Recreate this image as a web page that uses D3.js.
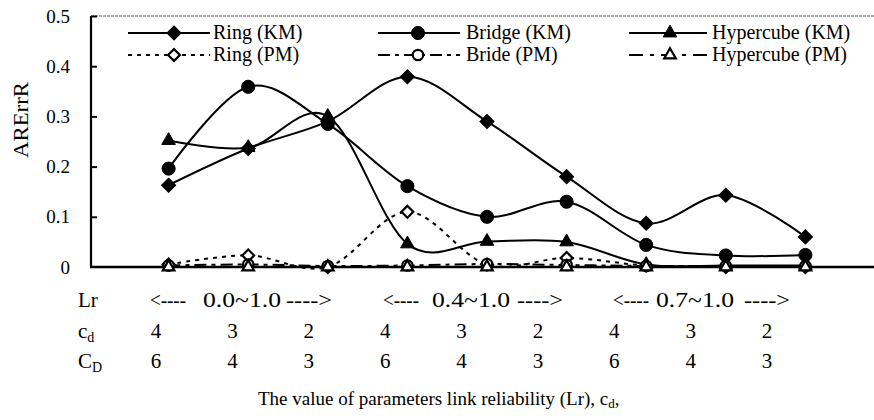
<!DOCTYPE html>
<html>
<head>
<meta charset="utf-8">
<script src="https://cdn.jsdelivr.net/npm/d3@7"></script>
<style>
  body { margin: 0; background: #fff; }
</style>
</head>
<body>
<div id="chart"></div>
<script>
// data (9 parameter settings)
var points = [1, 2, 3, 4, 5, 6, 7, 8, 9];
var ringKM      = [0.163, 0.236, 0.29, 0.379, 0.29, 0.18, 0.087, 0.143, 0.06];
var bridgeKM    = [0.196, 0.359, 0.285, 0.161, 0.10, 0.13, 0.044, 0.023, 0.024];
var hypercubeKM = [0.252, 0.238, 0.30, 0.046, 0.051, 0.05, 0.005, 0.003, 0.003];
var ringPM      = [0.005, 0.023, 0.0, 0.11, 0.005, 0.018, 0.003, 0.0, 0.0];
var bridgePM    = [0.003, 0.005, 0.002, 0.003, 0.006, 0.004, 0.002, 0.002, 0.002];
var hypercubePM = [0, 0, 0, 0, 0, 0, 0, 0, 0];

var seriesNames = ["Ring (KM)", "Bridge (KM)", "Hypercube (KM)", "Ring (PM)", "Bride (PM)", "Hypercube (PM)"];
var yTicks = [0, 0.1, 0.2, 0.3, 0.4, 0.5];

var lrRanges = ["0.0~1.0", "0.4~1.0", "0.7~1.0"];
var cdLabels = ["4", "3", "2", "4", "3", "2", "4", "3", "2"];
var cDLabels = ["6", "4", "3", "6", "4", "3", "6", "4", "3"];

var width = 874, height = 420;
var serif = "'Liberation Serif', 'DejaVu Serif', serif";

var svg = d3.select("#chart").append("svg")
    .attr("width", width)
    .attr("height", height)
    .attr("font-family", serif);

// scales
var x = d3.scaleLinear().domain([0, 10]).range([89, 885]);
var y = d3.scaleLinear().domain([0, 0.5]).range([267, 16]);

// series styles
var series = [
  { name: seriesNames[0], values: ringKM,      shape: "diamond",  filled: true,  dash: null },
  { name: seriesNames[1], values: bridgeKM,    shape: "circle",   filled: true,  dash: null },
  { name: seriesNames[2], values: hypercubeKM, shape: "triangle", filled: true,  dash: null },
  { name: seriesNames[3], values: ringPM,      shape: "diamond",  filled: false, dash: "4,5" },
  { name: seriesNames[4], values: bridgePM,    shape: "circle",   filled: false, dash: "12,5,4,5" },
  { name: seriesNames[5], values: hypercubePM, shape: "triangle", filled: false, dash: "14,7,4,7" }
];

function symbolPath(shape, filled) {
  if (shape === "diamond") return d3.symbol(d3.symbolSquare, filled ? 100 : 70)();
  if (shape === "circle") return d3.symbol(d3.symbolCircle, filled ? 135 : 85)();
  return d3.symbol(d3.symbolTriangle, filled ? 80 : 58)();
}

// top border line
svg.append("line")
    .attr("x1", x.range()[0] + 2).attr("x2", width)
    .attr("y1", y(0.5)).attr("y2", y(0.5))
    .attr("stroke", "#555").attr("stroke-width", 1)
    .attr("stroke-dasharray", "3,1");

// y axis
var yAxis = svg.append("g")
    .attr("transform", "translate(91,0)")
    .call(d3.axisRight(y).tickValues(yTicks).tickSize(6).tickFormat(function (d) {
        return d === 0 ? "0" : d.toFixed(1);
    }));
yAxis.attr("font-family", serif).attr("font-size", 19);
yAxis.select(".domain").attr("stroke", "#000").attr("stroke-width", 2.2)
    .attr("d", "M0," + y(0.5) + "V" + y(0));
yAxis.selectAll(".tick line").attr("stroke", "#000").attr("stroke-width", 2);
yAxis.selectAll(".tick text")
    .attr("x", -21)
    .attr("text-anchor", "end")
    .attr("fill", "#000");
yAxis.selectAll(".tick").filter(function (d) { return d === 0; }).select("line").remove();

// y axis label
svg.append("text")
    .attr("transform", "translate(28,120) rotate(-90)")
    .attr("x", -38)
    .attr("font-size", 22)
    .attr("textLength", 76).attr("lengthAdjust", "spacingAndGlyphs")
    .text("ARErrR");

// lines
var line = d3.line()
    .x(function (d, i) { return x(points[i]); })
    .y(function (d) { return y(d); })
    .curve(d3.curveCardinal.tension(0));

series.forEach(function (s) {
  svg.append("path")
      .datum(s.values)
      .attr("fill", "none")
      .attr("stroke", "#000")
      .attr("stroke-width", 2)
      .attr("stroke-dasharray", s.dash)
      .attr("d", line);
});

// x axis line (drawn over the zero lines)
svg.append("line")
    .attr("x1", 90).attr("x2", width)
    .attr("y1", y(0)).attr("y2", y(0))
    .attr("stroke", "#000").attr("stroke-width", 2.6);

// markers
series.forEach(function (s) {
  svg.append("g").selectAll("path")
      .data(s.values)
      .enter().append("path")
      .attr("d", symbolPath(s.shape, s.filled))
      .attr("transform", function (d, i) {
          return "translate(" + x(points[i]) + "," + y(d) + ")" + (s.shape === "diamond" ? " rotate(45)" : "");
      })
      .attr("fill", s.filled ? "#000" : "#fff")
      .attr("stroke", "#000")
      .attr("stroke-width", s.filled ? 1 : 2.2);
});

// legend
var legendCols = [
  { x1: 128, x2: 210, mx: 174, tx: 213 },
  { x1: 378, x2: 460, mx: 418, tx: 466 },
  { x1: 629, x2: 707, mx: 670, tx: 712 }
];
var legendRows = [33, 55];

series.forEach(function (s, i) {
  var col = legendCols[i % 3], ry = legendRows[Math.floor(i / 3)];
  var g = svg.append("g");
  g.append("line")
      .attr("x1", col.x1).attr("x2", col.x2)
      .attr("y1", ry).attr("y2", ry)
      .attr("stroke", "#000").attr("stroke-width", 2)
      .attr("stroke-dasharray", s.dash);
  g.append("path")
      .attr("d", symbolPath(s.shape, s.filled))
      .attr("transform", "translate(" + col.mx + "," + ry + ")" + (s.shape === "diamond" ? " rotate(45)" : ""))
      .attr("fill", s.filled ? "#000" : "#fff")
      .attr("stroke", "#000")
      .attr("stroke-width", s.filled ? 1 : 2.2);
  g.append("text")
      .attr("x", col.tx).attr("y", ry + 6)
      .attr("font-size", 20)
      .text(s.name);
});

// parameter rows under the axis
var rowFont = 21;
var rowLabelX = 78;
svg.append("text").attr("x", rowLabelX).attr("y", 307).attr("font-size", rowFont).text("Lr");
var cdT = svg.append("text").attr("x", rowLabelX).attr("y", 338).attr("font-size", rowFont);
cdT.append("tspan").text("c");
cdT.append("tspan").attr("font-size", 14).attr("dy", 4).text("d");
var cDT = svg.append("text").attr("x", rowLabelX).attr("y", 368).attr("font-size", rowFont);
cDT.append("tspan").text("C");
cDT.append("tspan").attr("font-size", 14).attr("dy", 4).text("D");

// Lr ranges: "<----  range ---->"
var lrLeft = [150, 383, 613], lrMid = [242, 471, 695], lrRight = [332, 563, 790];
var lr = svg.selectAll(".lr").data(lrRanges).enter().append("g").attr("class", "lr")
    .attr("font-size", rowFont);
lr.append("text")
    .attr("x", function (d, i) { return lrLeft[i]; })
    .attr("y", 307)
    .attr("textLength", 36).attr("lengthAdjust", "spacingAndGlyphs")
    .text("<----");
lr.append("text")
    .attr("x", function (d, i) { return lrMid[i] - 39; })
    .attr("y", 307)
    .attr("textLength", 78).attr("lengthAdjust", "spacingAndGlyphs")
    .text(function (d) { return d; });
lr.append("text")
    .attr("x", function (d, i) { return lrRight[i] - 46; })
    .attr("y", 307)
    .attr("textLength", 46).attr("lengthAdjust", "spacingAndGlyphs")
    .text("---->");

var xl = d3.scalePoint().domain(d3.range(9)).range([156, 767]);
svg.selectAll(".cd").data(cdLabels).enter().append("text")
    .attr("class", "cd")
    .attr("x", function (d, i) { return xl(i); })
    .attr("y", 338)
    .attr("text-anchor", "middle")
    .attr("font-size", rowFont)
    .text(function (d) { return d; });
svg.selectAll(".cD").data(cDLabels).enter().append("text")
    .attr("class", "cD")
    .attr("x", function (d, i) { return xl(i); })
    .attr("y", 368)
    .attr("text-anchor", "middle")
    .attr("font-size", rowFont)
    .text(function (d) { return d; });

// axis title
var title = svg.append("text")
    .attr("x", 258).attr("y", 405)
    .attr("font-size", 19);
title.append("tspan").text("The value of parameters link reliability (Lr), c");
title.append("tspan").attr("font-size", 13).attr("dy", 3).text("d");
title.append("tspan").attr("dy", -3).text(",");
</script>
</body>
</html>
